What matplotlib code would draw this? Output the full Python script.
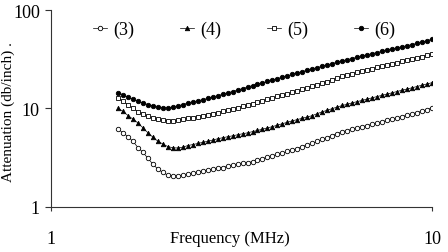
import matplotlib
matplotlib.use("Agg")
import matplotlib.pyplot as plt

plt.rcParams["font.family"] = ["Liberation Serif", "DejaVu Serif"]

# frequency points (MHz)
freq = [1.500, 1.546, 1.593, 1.642, 1.692, 1.744, 1.797, 1.852, 1.908, 1.967,
        2.027, 2.089, 2.152, 2.218, 2.286, 2.356, 2.428, 2.502, 2.578, 2.657,
        2.738, 2.822, 2.908, 2.997, 3.088, 3.183, 3.280, 3.380, 3.483, 3.590,
        3.699, 3.812, 3.929, 4.049, 4.172, 4.300, 4.431, 4.567, 4.706, 4.850,
        4.998, 5.151, 5.308, 5.470, 5.637, 5.810, 5.987, 6.170, 6.359, 6.553,
        6.753, 6.960, 7.172, 7.391, 7.617, 7.850, 8.089, 8.336, 8.591, 8.853,
        9.124, 9.402, 9.690, 10.00]

# attenuation (db/inch)
att3 = [6.14, 5.60, 5.13, 4.59, 3.98, 3.55, 3.09, 2.69, 2.40, 2.22,
        2.08, 2.04, 2.04, 2.09, 2.14, 2.19, 2.24, 2.30, 2.36, 2.40,
        2.45, 2.49, 2.57, 2.62, 2.68, 2.74, 2.79, 2.86, 2.96, 3.07,
        3.18, 3.29, 3.39, 3.51, 3.63, 3.76, 3.89, 4.07, 4.24, 4.41,
        4.60, 4.81, 5.01, 5.27, 5.53, 5.75, 5.93, 6.11, 6.30, 6.47,
        6.67, 6.87, 7.08, 7.29, 7.52, 7.73, 7.96, 8.22, 8.49, 8.75,
        9.04, 9.33, 9.68, 10.07]
att4 = [10.0, 9.27, 8.43, 7.74, 7.08, 6.31, 5.62, 5.07, 4.62, 4.32,
        4.07, 3.96, 3.94, 4.02, 4.17, 4.27, 4.38, 4.50, 4.61, 4.75,
        4.89, 5.01, 5.13, 5.24, 5.37, 5.50, 5.62, 5.78, 5.94, 6.12,
        6.31, 6.50, 6.73, 6.97, 7.19, 7.45, 7.67, 7.91, 8.15, 8.41,
        8.81, 9.18, 9.55, 9.91, 10.28, 10.67, 10.96, 11.35, 11.67, 12.02,
        12.39, 12.76, 13.15, 13.52, 13.93, 14.35, 14.79, 15.24, 15.67, 16.14,
        16.63, 17.14, 17.66, 18.20]
att5 = [12.7, 11.8, 10.8, 9.98, 9.25, 8.71, 8.28, 7.94, 7.69, 7.53,
        7.48, 7.48, 7.55, 7.73, 7.89, 8.05, 8.24, 8.43, 8.63, 8.83,
        9.04, 9.27, 9.55, 9.84, 10.14, 10.47, 10.81, 11.17, 11.53, 11.91,
        12.30, 12.74, 13.18, 13.61, 14.06, 14.55, 15.07, 15.60, 16.14, 16.75,
        17.38, 18.03, 18.71, 19.50, 20.32, 21.13, 21.88, 22.49, 23.12, 23.82,
        24.55, 25.29, 26.06, 26.79, 27.54, 28.31, 29.17, 30.06, 30.90, 31.77,
        32.66, 33.57, 34.59, 35.65]
att6 = [14.45, 13.68, 12.88, 12.30, 11.75, 11.32, 10.89, 10.52, 10.23, 10.09,
        10.07, 10.23, 10.54, 10.91, 11.30, 11.59, 11.89, 12.22, 12.59, 12.97,
        13.40, 13.87, 14.32, 14.79, 15.31, 15.85, 16.41, 17.02, 17.58, 18.16,
        18.75, 19.36, 20.04, 20.70, 21.38, 22.13, 22.86, 23.61, 24.38, 25.12,
        25.94, 26.73, 27.54, 28.44, 29.44, 30.34, 31.19, 32.06, 33.04, 33.96,
        34.91, 35.89, 36.90, 37.93, 38.90, 39.90, 41.02, 42.07, 43.25, 44.46,
        45.71, 46.99, 48.64, 50.47]

labels = ["(3)", "(4)", "(5)", "(6)"]
xticks = [1, 10]
yticks = [1, 10, 100]

fig = plt.figure(figsize=(4.48, 2.53), dpi=100)
ax = fig.add_axes([51 / 448, 1 - 207.5 / 253, 381 / 448, 196.5 / 253])

common = dict(color="black", linewidth=0.5, markersize=3.2, markeredgewidth=0.6)
ax.plot(freq, att3, marker="o", markerfacecolor="white", label=labels[0], **common)
ax.plot(freq, att4, marker="^", markerfacecolor="black", label=labels[1], **common)
ax.plot(freq, att5, marker="s", markerfacecolor="white", label=labels[2], **common)
ax.plot(freq, att6, marker="o", markerfacecolor="black", label=labels[3], **common)

ax.set_xscale("log")
ax.set_yscale("log")
ax.set_xlim(1, 10)
ax.set_ylim(1, 100)
ax.set_xticks(xticks)
ax.set_xticklabels([str(t) for t in xticks])
ax.set_yticks(yticks)
ax.set_yticklabels([str(t) for t in yticks])
ax.minorticks_off()

for side in ["top", "right"]:
    ax.spines[side].set_visible(False)
for side in ["left", "bottom"]:
    ax.spines[side].set_color("#333333")
    ax.spines[side].set_linewidth(0.8)

ax.tick_params(axis="x", direction="out", length=3, width=0.8, color="#333333",
               pad=14, labelsize=13)
ax.tick_params(axis="y", direction="out", length=4, width=0.8, color="#333333",
               pad=4, labelsize=13)

fig.text(230 / 448, 1 - 239 / 253, "Frequency (MHz)", ha="center", va="center", fontsize=12)
fig.text(8 / 448, 1 - 112 / 253, "Attenuation (db/inch) .", ha="center", va="center",
         rotation=90, fontsize=11)

ax.legend(ncol=4, loc="upper left", bbox_to_anchor=(0.11, 0.945), frameon=False,
          fontsize=13, handlelength=0.8, handletextpad=0.35, columnspacing=2.5,
          borderpad=0, borderaxespad=0)

fig.savefig("out.png", dpi=100)
